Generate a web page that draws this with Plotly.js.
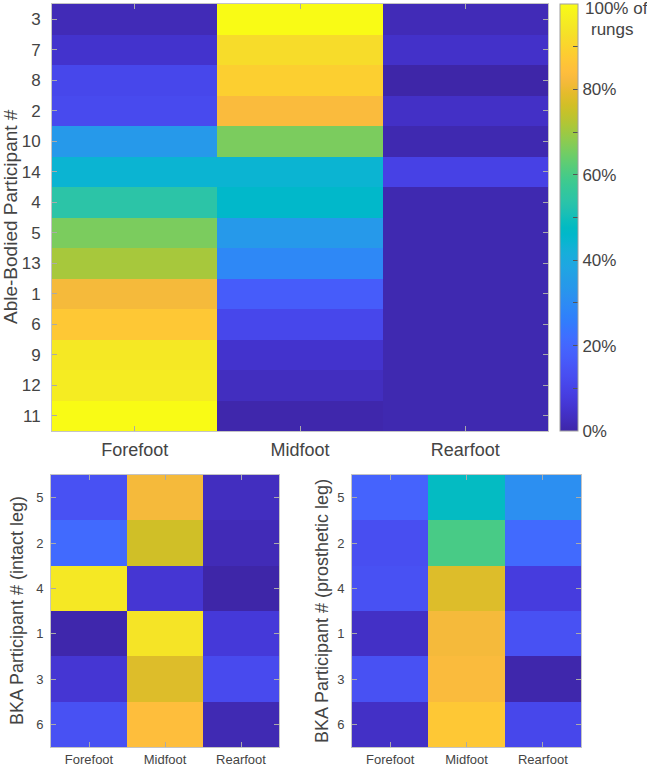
<!DOCTYPE html>
<html>
<head>
<meta charset="utf-8">
<script src="https://cdn.plot.ly/plotly-3.0.1.min.js"></script>
<style>html,body{margin:0;padding:0;background:#fff;}#chart{width:647px;height:767px;}</style>
</head>
<body>
<div id="chart"></div>
<script>
// ---------- data ----------
const footRegions = ['Forefoot', 'Midfoot', 'Rearfoot'];

const ableBodiedIds = ['3', '7', '8', '2', '10', '14', '4', '5', '13', '1', '6', '9', '12', '11'];
const abForefoot = [2, 5, 11, 12, 34, 44, 54, 66, 71, 82, 87, 95, 96, 100];
const abMidfoot  = [100, 92, 89, 83, 66, 44, 46, 34, 29, 17, 11, 5, 3, 0.5];
const abRearfoot = [2, 4.5, 0, 4, 1, 9.5, 1, 1, 1, 1, 1, 1, 1, 1];

const bkaIds = ['5', '2', '4', '1', '3', '6'];
const intactForefoot = [14, 21, 95, 0.5, 6, 14];
const intactMidfoot  = [82, 76, 6, 94, 78, 84];
const intactRearfoot = [3, 2, 0, 7, 12, 1.5];

const prosForefoot = [19, 13, 14, 4, 14, 4];
const prosMidfoot  = [48, 60, 78, 82, 83, 87];
const prosRearfoot = [31, 21, 8, 14, 0.5, 11];

const cbTickVals = [0, 10, 20, 30, 40, 50, 60, 70, 80, 90];
const cbTickText = ['0%', '', '20%', '', '40%', '', '60%', '', '80%', ''];
const cbTopLabel = ['100% of', 'rungs'];

// ---------- parula colormap (style) ----------
const parula = [
[0.2422,0.1504,0.6603],[0.2504,0.1650,0.7076],[0.2578,0.1818,0.7511],[0.2647,0.1978,0.7952],
[0.2706,0.2147,0.8364],[0.2751,0.2342,0.8710],[0.2783,0.2559,0.8991],[0.2803,0.2782,0.9221],
[0.2813,0.3006,0.9414],[0.2810,0.3228,0.9579],[0.2795,0.3447,0.9717],[0.2760,0.3667,0.9829],
[0.2699,0.3892,0.9906],[0.2602,0.4123,0.9952],[0.2440,0.4358,0.9988],[0.2206,0.4603,0.9973],
[0.1963,0.4847,0.9892],[0.1834,0.5074,0.9798],[0.1786,0.5289,0.9682],[0.1764,0.5499,0.9520],
[0.1687,0.5703,0.9359],[0.1540,0.5902,0.9218],[0.1460,0.6091,0.9079],[0.1380,0.6276,0.8973],
[0.1248,0.6459,0.8883],[0.1113,0.6630,0.8763],[0.0952,0.6798,0.8598],[0.0689,0.6948,0.8394],
[0.0297,0.7082,0.8163],[0.0036,0.7203,0.7917],[0.0067,0.7312,0.7660],[0.0433,0.7411,0.7394],
[0.0964,0.7500,0.7120],[0.1408,0.7584,0.6842],[0.1717,0.7670,0.6554],[0.1938,0.7758,0.6251],
[0.2161,0.7843,0.5923],[0.2470,0.7918,0.5567],[0.2906,0.7973,0.5188],[0.3406,0.8008,0.4789],
[0.3909,0.8029,0.4354],[0.4456,0.8024,0.3909],[0.5044,0.7993,0.3480],[0.5616,0.7942,0.3045],
[0.6174,0.7876,0.2612],[0.6720,0.7793,0.2227],[0.7242,0.7698,0.1910],[0.7738,0.7598,0.1646],
[0.8203,0.7498,0.1535],[0.8634,0.7406,0.1596],[0.9035,0.7330,0.1774],[0.9393,0.7288,0.2100],
[0.9728,0.7298,0.2394],[0.9956,0.7434,0.2371],[0.9970,0.7659,0.2199],[0.9952,0.7893,0.2028],
[0.9892,0.8136,0.1885],[0.9786,0.8386,0.1766],[0.9676,0.8639,0.1643],[0.9610,0.8890,0.1537],
[0.9597,0.9135,0.1423],[0.9628,0.9373,0.1265],[0.9691,0.9606,0.1064],[0.9769,0.9839,0.0805]];
const colorscale = parula.map((c, i) => [i / (parula.length - 1),
  'rgb(' + c.map(v => Math.round(v * 255)).join(',') + ')']);

// ---------- helpers ----------
const W = 647, H = 767;
const px = v => v / W;
const py = v => 1 - v / H;
const FONT = 'Liberation Sans, Arial, sans-serif';
const TXT = '#444';

function rowsOf(ids, cols) {
  return ids.map((_, i) => cols.map(c => c[i]));
}

const topZ = rowsOf(ableBodiedIds, [abForefoot, abMidfoot, abRearfoot]);
const intactZ = rowsOf(bkaIds, [intactForefoot, intactMidfoot, intactRearfoot]);
const prosZ = rowsOf(bkaIds, [prosForefoot, prosMidfoot, prosRearfoot]);

const common = { type: 'heatmap', colorscale: colorscale, zmin: 0, zmax: 100, zsmooth: false, hoverinfo: 'x+y+z' };

const traces = [
  Object.assign({}, common, {
    x: footRegions, y: ableBodiedIds, z: topZ, xaxis: 'x', yaxis: 'y',
    showscale: true,
    colorbar: {
      x: px(560), xanchor: 'left', xref: 'paper',
      y: py(431), yanchor: 'bottom', yref: 'paper',
      len: (431 - 4) / H, lenmode: 'fraction',
      thickness: 18, thicknessmode: 'pixels',
      xpad: 0, ypad: 0,
      outlinecolor: '#a0a0a0', outlinewidth: 1,
      tickmode: 'array', tickvals: cbTickVals, ticktext: cbTickText,
      ticks: 'inside', ticklen: 5, tickcolor: '#555', tickwidth: 1,
      tickfont: { family: FONT, size: 17, color: TXT }
    }
  }),
  Object.assign({}, common, {
    x: footRegions, y: bkaIds, z: intactZ, xaxis: 'x2', yaxis: 'y2', showscale: false
  }),
  Object.assign({}, common, {
    x: footRegions, y: bkaIds, z: prosZ, xaxis: 'x3', yaxis: 'y3', showscale: false
  })
];

function xAx(domain, anchor, size, standoff) {
  return {
    domain: domain, anchor: anchor, type: 'category',
    showline: true, linecolor: '#c4c4c4', linewidth: 1, mirror: 'ticks',
    ticks: 'inside', ticklen: 5, tickcolor: '#aaa', tickwidth: 1,
    tickfont: { family: FONT, size: size, color: TXT },
    ticklabelstandoff: standoff,
    showgrid: false, zeroline: false, fixedrange: true
  };
}
function yAx(domain, anchor, size, standoff) {
  return {
    domain: domain, anchor: anchor, type: 'category', autorange: 'reversed',
    showline: true, linecolor: '#c4c4c4', linewidth: 1, mirror: 'ticks',
    ticks: 'inside', ticklen: 5, tickcolor: '#aaa', tickwidth: 1,
    tickfont: { family: FONT, size: size, color: TXT },
    ticklabelstandoff: standoff,
    showgrid: false, zeroline: false, fixedrange: true
  };
}

const layout = {
  width: W, height: H,
  margin: { l: 0, r: 0, t: 0, b: 0, pad: 0 },
  paper_bgcolor: '#fff', plot_bgcolor: '#fff',
  font: { family: FONT, color: TXT },
  showlegend: false,
  xaxis:  xAx([px(52), px(548)], 'y', 18, 2),
  yaxis:  yAx([py(431), py(4)], 'x', 17, 7),
  xaxis2: xAx([px(51), px(279)], 'y2', 13, 0),
  yaxis2: yAx([py(747), py(475)], 'x2', 13, 4),
  xaxis3: xAx([px(352), px(581)], 'y3', 13, 0),
  yaxis3: yAx([py(747), py(475)], 'x3', 13, 4),
  annotations: [
    { text: 'Able-Bodied Participant #', textangle: -90, xref: 'paper', yref: 'paper',
      x: px(10), y: py(217), xanchor: 'center', yanchor: 'middle', showarrow: false,
      font: { family: FONT, size: 19, color: TXT } },
    { text: 'BKA Participant # (intact leg)', textangle: -90, xref: 'paper', yref: 'paper',
      x: px(17), y: py(611), xanchor: 'center', yanchor: 'middle', showarrow: false,
      font: { family: FONT, size: 18, color: TXT } },
    { text: 'BKA Participant # (prosthetic leg)', textangle: -90, xref: 'paper', yref: 'paper',
      x: px(322), y: py(611), xanchor: 'center', yanchor: 'middle', showarrow: false,
      font: { family: FONT, size: 18, color: TXT } },
    { text: cbTopLabel[0], xref: 'paper', yref: 'paper',
      x: px(583), y: py(9), xanchor: 'left', yanchor: 'middle', showarrow: false,
      font: { family: FONT, size: 17, color: TXT } },
    { text: cbTopLabel[1], xref: 'paper', yref: 'paper',
      x: px(612), y: py(29), xanchor: 'center', yanchor: 'middle', showarrow: false,
      font: { family: FONT, size: 17, color: TXT } }
  ]
};

Plotly.newPlot('chart', traces, layout, { displayModeBar: false, staticPlot: true });
</script>
</body>
</html>
